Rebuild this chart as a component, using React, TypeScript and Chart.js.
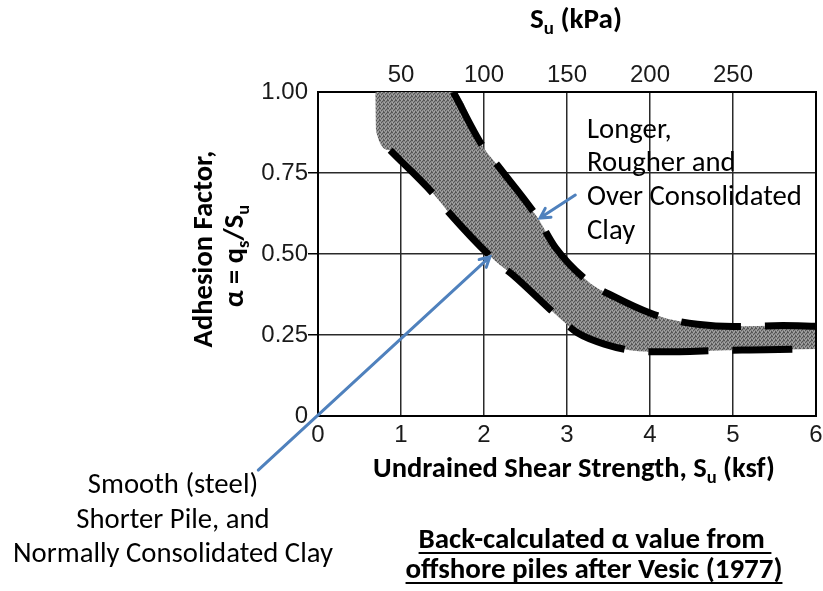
import React, { useEffect, useRef } from 'react';
import { Chart, registerables } from 'chart.js';

Chart.register(...registerables);

// ---------- data ----------
const xTickValues = [0, 1, 2, 3, 4, 5, 6]; // ksf
const xTickLabels = ['0', '1', '2', '3', '4', '5', '6'];
const yTickValues = [0, 0.25, 0.5, 0.75, 1.0];
const yTickLabels = ['0', '0.25', '0.50', '0.75', '1.00'];
const topTickValues = [50, 100, 150, 200, 250]; // kPa
const topTickLabels = ['50', '100', '150', '200', '250'];

// upper bound (longer, rougher, over-consolidated)
const upperX = [1.63, 1.99, 2.19, 2.64, 2.86, 3.28, 3.58, 4.0, 4.28, 4.57, 5.0, 5.6, 6.0];
const upperY = [1.0, 0.83, 0.765, 0.614, 0.52, 0.41, 0.367, 0.318, 0.296, 0.283, 0.276, 0.279, 0.277];
// lower bound (smooth, shorter, normally consolidated)
const lowerX = [0.87, 1.41, 1.57, 2.13, 2.35, 2.92, 3.13, 3.45, 3.86, 4.16, 4.93, 5.2, 6.0];
const lowerY = [0.82, 0.68, 0.63, 0.48, 0.435, 0.3, 0.256, 0.222, 0.2, 0.198, 0.203, 0.204, 0.207];
// shaded band's upper-left corner (band edge before the dashed lower bound starts)
const bandCornerX = [0.69, 0.7];
const bandCornerY = [1.0, 0.88];

// arrows (data units: ksf, alpha) [tailX, tailY, headX, headY]
const arrowSmooth = [-0.72, -0.167, 2.07, 0.491];
const arrowRough = [3.1, 0.682, 2.675, 0.611];

// ---------- styles ----------
const TICK_FONT = "'Liberation Sans', Arial, Helvetica, sans-serif";
const TEXT_FONT = "Carlito, Calibri, Lato, 'Open Sans', sans-serif";
const BLUE = 'rgb(79,129,189)';

type Seg = { t: string; sub?: boolean };

function setFont(ctx: CanvasRenderingContext2D, size: number, weight: string) {
  ctx.font = `${weight} ${size}px ${TEXT_FONT}`;
}
function richWidth(ctx: CanvasRenderingContext2D, segs: Seg[], size: number, weight: string) {
  let w = 0;
  for (const s of segs) {
    setFont(ctx, s.sub ? size * 0.65 : size, weight);
    w += ctx.measureText(s.t).width;
  }
  return w;
}
function fitSize(ctx: CanvasRenderingContext2D, segs: Seg[], width: number, weight: string) {
  return (20 * width) / richWidth(ctx, segs, 20, weight);
}
function drawRich(
  ctx: CanvasRenderingContext2D,
  segs: Seg[],
  cx: number,
  baseline: number,
  size: number,
  weight: string,
  align: 'center' | 'left' = 'center',
  underline = false
) {
  const w = richWidth(ctx, segs, size, weight);
  let x = align === 'center' ? cx - w / 2 : cx;
  const x0 = x;
  ctx.textAlign = 'left';
  ctx.textBaseline = 'alphabetic';
  ctx.fillStyle = '#000';
  for (const s of segs) {
    const sz = s.sub ? size * 0.65 : size;
    setFont(ctx, sz, weight);
    ctx.fillText(s.t, x, baseline + (s.sub ? size * 0.22 : 0));
    x += ctx.measureText(s.t).width;
  }
  if (underline) {
    ctx.fillRect(x0, baseline + 4, w, 2);
  }
}

function drawArrow(ctx: CanvasRenderingContext2D, x1: number, y1: number, x2: number, y2: number) {
  ctx.save();
  ctx.strokeStyle = BLUE;
  ctx.lineWidth = 3;
  ctx.lineCap = 'round';
  ctx.beginPath();
  ctx.moveTo(x1, y1);
  ctx.lineTo(x2, y2);
  const a = Math.atan2(y2 - y1, x2 - x1);
  const L = 11;
  const sp = 0.5;
  ctx.moveTo(x2 - L * Math.cos(a - sp), y2 - L * Math.sin(a - sp));
  ctx.lineTo(x2, y2);
  ctx.lineTo(x2 - L * Math.cos(a + sp), y2 - L * Math.sin(a + sp));
  ctx.stroke();
  ctx.restore();
}

const annotations = {
  id: 'annotations',
  afterDraw(chart: any) {
    const ctx: CanvasRenderingContext2D = chart.ctx;
    const xs = chart.scales.x;
    const ys = chart.scales.y;
    const ca = chart.chartArea;
    ctx.save();
    // right border of the frame
    ctx.strokeStyle = '#000';
    ctx.lineWidth = 2;
    ctx.beginPath();
    ctx.moveTo(ca.right, ca.top - 1);
    ctx.lineTo(ca.right, ca.bottom + 1);
    ctx.stroke();

    // arrows
    const px = (v: number) => xs.getPixelForValue(v);
    const py = (v: number) => ys.getPixelForValue(v);
    drawArrow(ctx, px(arrowSmooth[0]), py(arrowSmooth[1]), px(arrowSmooth[2]), py(arrowSmooth[3]));
    drawArrow(ctx, px(arrowRough[0]), py(arrowRough[1]), px(arrowRough[2]), py(arrowRough[3]));

    // top title
    const topT: Seg[] = [{ t: 'S' }, { t: 'u', sub: true }, { t: ' (kPa)' }];
    drawRich(ctx, topT, 576, 28, fitSize(ctx, topT, 92, 'bold'), 'bold');

    // x title
    const xT: Seg[] = [{ t: 'Undrained Shear Strength, S' }, { t: 'u', sub: true }, { t: ' (ksf)' }];
    drawRich(ctx, xT, 574, 477, fitSize(ctx, xT, 402, 'bold'), 'bold');

    // y title (rotated)
    const y1: Seg[] = [{ t: 'Adhesion Factor,' }];
    const y2: Seg[] = [{ t: 'α = q' }, { t: 's', sub: true }, { t: '/S' }, { t: 'u', sub: true }];
    const ySize = fitSize(ctx, y1, 197, 'bold');
    ctx.save();
    ctx.translate(212, 249);
    ctx.rotate(-Math.PI / 2);
    drawRich(ctx, y1, 0, 0, ySize, 'bold');
    ctx.restore();
    ctx.save();
    ctx.translate(243, 256);
    ctx.rotate(-Math.PI / 2);
    drawRich(ctx, y2, 0, 0, ySize, 'bold');
    ctx.restore();

    // right annotation
    const rSize = fitSize(ctx, [{ t: 'Over Consolidated' }], 215, 'normal');
    const rLines = ['Longer,', 'Rougher and', 'Over Consolidated', 'Clay'];
    const rBase = [138, 171, 205, 239];
    rLines.forEach((l, i) => drawRich(ctx, [{ t: l }], 587, rBase[i], rSize, 'normal', 'left'));

    // left annotation
    const lSize = fitSize(ctx, [{ t: 'Normally Consolidated Clay' }], 320, 'normal');
    const lLines = ['Smooth (steel)', 'Shorter Pile, and', 'Normally Consolidated Clay'];
    const lBase = [493, 528, 562];
    lLines.forEach((l, i) => drawRich(ctx, [{ t: l }], 173, lBase[i], lSize, 'normal'));

    // caption
    const cSize = fitSize(ctx, [{ t: 'offshore piles after Vesic (1977)' }], 377, 'bold');
    drawRich(ctx, [{ t: 'Back-calculated α value from ' }], 595, 548, cSize, 'bold', 'center', true);
    drawRich(ctx, [{ t: 'offshore piles after Vesic (1977)' }], 594, 578, cSize, 'bold', 'center', true);

    ctx.restore();
  },
};

export default function App() {
  const ref = useRef<HTMLCanvasElement | null>(null);

  useEffect(() => {
    document.body.style.margin = '0';
    const canvas = ref.current!;
    const ctx = canvas.getContext('2d')!;

    // stippled grey texture for the band
    const pc = document.createElement('canvas');
    pc.width = 4;
    pc.height = 4;
    const g = pc.getContext('2d')!;
    g.fillStyle = '#8a8a8a';
    g.fillRect(0, 0, 4, 4);
    g.fillStyle = '#555555';
    [[0, 0], [2, 1], [1, 2], [3, 3], [3, 0]].forEach(([a, b]) => g.fillRect(a, b, 1, 1));
    g.fillStyle = '#a6a6a6';
    [[2, 3], [0, 2], [1, 0]].forEach(([a, b]) => g.fillRect(a, b, 1, 1));
    const pattern = ctx.createPattern(pc, 'repeat')!;

    const pts = (xs: number[], ys: number[]) => xs.map((x, i) => ({ x, y: ys[i] }));
    const bandTop = [{ x: bandCornerX[0], y: bandCornerY[0] }, ...pts(upperX, upperY)];
    const bandBottom = [...pts(bandCornerX, bandCornerY), ...pts(lowerX, lowerY)];

    const chart = new Chart(canvas, {
      type: 'line',
      data: {
        datasets: [
          {
            label: 'Upper bound',
            data: pts(upperX, upperY),
            borderColor: '#000',
            borderWidth: 7,
            borderDash: [60, 24],
            borderCapStyle: 'butt',
            pointRadius: 0,
            fill: false,
            cubicInterpolationMode: 'monotone',
          },
          {
            label: 'Lower bound',
            data: pts(lowerX, lowerY),
            borderColor: '#000',
            borderWidth: 7,
            borderDash: [60, 24],
            borderCapStyle: 'butt',
            pointRadius: 0,
            fill: false,
            cubicInterpolationMode: 'monotone',
          },
          {
            label: 'Band top',
            data: bandTop,
            borderColor: 'transparent',
            borderWidth: 1,
            pointRadius: 0,
            backgroundColor: pattern as any,
            fill: '+1',
            cubicInterpolationMode: 'monotone',
          },
          {
            label: 'Band bottom',
            data: bandBottom,
            borderColor: 'transparent',
            borderWidth: 1,
            pointRadius: 0,
            fill: false,
            cubicInterpolationMode: 'monotone',
          },
        ],
      },
      options: {
        animation: false,
        responsive: false,
        devicePixelRatio: 1,
        events: [],
        layout: { padding: { left: 0, right: 7, top: 0, bottom: 0 } },
        plugins: {
          legend: { display: false },
          tooltip: { enabled: false },
          title: { display: false },
        },
        scales: {
          x: {
            type: 'linear',
            position: 'bottom',
            min: 0,
            max: 6,
            afterBuildTicks: (a: any) => {
              a.ticks = xTickValues.map((v) => ({ value: v }));
            },
            ticks: {
              font: { family: TICK_FONT, size: 24 },
              color: '#1a1a1a',
              padding: 5,
              maxRotation: 0,
              autoSkip: false,
              callback: (_v: any, i: number) => xTickLabels[i],
            },
            grid: { color: '#2a2a2a', lineWidth: 1.5, drawTicks: false },
            border: { color: '#000', width: 2 },
            afterFit: (s: any) => {
              s.height = 175;
              s.paddingLeft = 0;
              s.paddingRight = 0;
            },
          },
          x2: {
            type: 'linear',
            position: 'top',
            min: 0,
            max: 300,
            afterBuildTicks: (a: any) => {
              a.ticks = topTickValues.map((v) => ({ value: v }));
            },
            ticks: {
              font: { family: TICK_FONT, size: 24 },
              color: '#1a1a1a',
              padding: 2,
              maxRotation: 0,
              autoSkip: false,
              callback: (_v: any, i: number) => topTickLabels[i],
            },
            grid: { display: false, drawTicks: false },
            border: { display: true, color: '#000', width: 2 },
            afterFit: (s: any) => {
              s.height = 92;
              s.paddingLeft = 0;
              s.paddingRight = 0;
            },
          },
          y: {
            type: 'linear',
            position: 'left',
            min: 0,
            max: 1,
            afterBuildTicks: (a: any) => {
              a.ticks = yTickValues.map((v) => ({ value: v }));
            },
            ticks: {
              font: { family: TICK_FONT, size: 24 },
              color: '#1a1a1a',
              padding: 0,
              autoSkip: false,
              callback: (_v: any, i: number) => yTickLabels[i],
            },
            grid: {
              color: '#2a2a2a',
              lineWidth: 1.5,
              tickLength: 10,
              tickColor: (c: any) =>
                c.tick && c.tick.value > 0 && c.tick.value < 1 ? '#000' : 'transparent',
            },
            border: { color: '#000', width: 2 },
            afterFit: (s: any) => {
              s.width = 318;
              s.paddingTop = 0;
              s.paddingBottom = 0;
            },
          },
        },
      } as any,
      plugins: [annotations],
    });

    return () => chart.destroy();
  }, []);

  return (
    <div style={{ width: 823, height: 591, position: 'relative', background: '#fff' }}>
      <canvas ref={ref} width={823} height={591} style={{ display: 'block' }} />
    </div>
  );
}
